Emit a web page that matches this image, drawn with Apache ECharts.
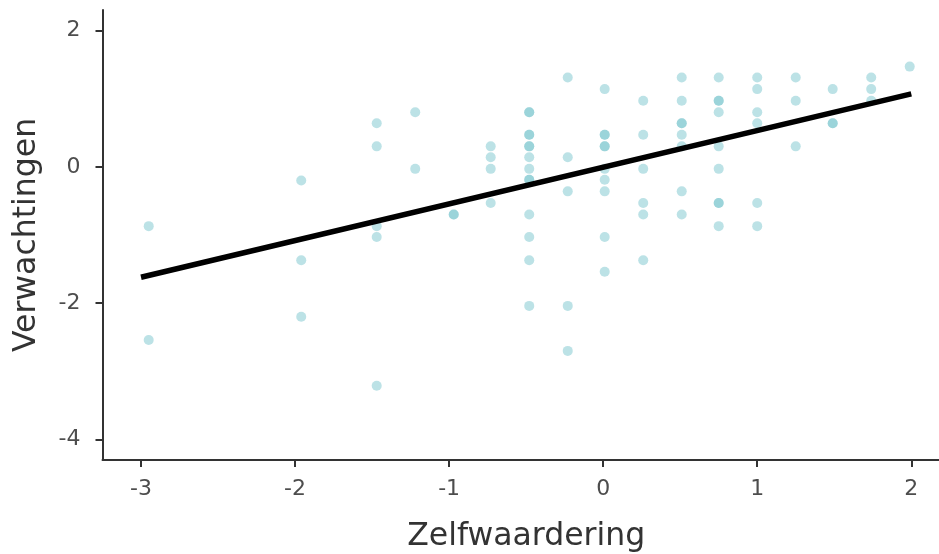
<!DOCTYPE html>
<html>
<head>
<meta charset="utf-8">
<script src="https://cdn.jsdelivr.net/npm/echarts@6/dist/echarts.min.js"></script>
<style>
html,body{margin:0;padding:0;background:#fff;}
#chart{width:939px;height:554px;}
</style>
</head>
<body>
<div id="chart"></div>
<script>
// Zelfwaardering (x) per point
var zelfwaardering = [
  -2.95,-2.95,
  -1.96,-1.96,-1.96,
  -1.47,-1.47,-1.47,-1.47,-1.47,
  -1.22,-1.22,
  -0.97,-0.97,
  -0.73,-0.73,-0.73,-0.73,
  -0.48,-0.48,-0.48,-0.48,-0.48,-0.48,-0.48,-0.48,-0.48,-0.48,-0.48,-0.48,-0.48,-0.48,
  -0.23,-0.23,-0.23,-0.23,-0.23,
  0.01,0.01,0.01,0.01,0.01,0.01,0.01,0.01,0.01,0.01,
  0.26,0.26,0.26,0.26,0.26,0.26,
  0.51,0.51,0.51,0.51,0.51,0.51,0.51,0.51,
  0.75,0.75,0.75,0.75,0.75,0.75,0.75,0.75,0.75,
  1.00,1.00,1.00,1.00,1.00,1.00,
  1.25,1.25,1.25,
  1.49,1.49,1.49,
  1.74,1.74,1.74,
  1.99
];
// Verwachtingen (y) per point
var verwachtingen = [
  -0.87,-2.54,
  -0.20,-1.37,-2.20,
  0.64,0.30,-0.87,-1.03,-3.21,
  0.80,-0.03,
  -0.70,-0.70,
  0.30,0.14,-0.03,-0.53,
  0.80,0.80,0.47,0.47,0.30,0.30,0.14,-0.03,-0.19,-0.19,-0.70,-1.03,-1.37,-2.04,
  1.31,0.14,-0.36,-2.04,-2.70,
  1.14,0.47,0.47,0.30,0.30,-0.03,-0.19,-0.36,-1.03,-1.54,
  0.97,0.47,-0.03,-0.53,-0.70,-1.37,
  1.31,0.97,0.64,0.64,0.47,0.30,-0.36,-0.70,
  1.31,0.97,0.97,0.80,0.30,-0.03,-0.53,-0.53,-0.87,
  1.31,1.14,0.80,0.64,-0.53,-0.87,
  1.31,0.97,0.30,
  1.14,0.64,0.64,
  1.31,1.14,0.97,
  1.47
];
// fitted regression line end points
var fitX = [-3, 2];
var fitY = [-1.62, 1.07];
var xTicks = [-3, -2, -1, 0, 1, 2];
var yTicks = [-4, -2, 0, 2];

var points = zelfwaardering.map(function (x, i) { return [x, verwachtingen[i]]; });
var fitLine = fitX.map(function (x, i) { return [x, fitY[i]]; });

var chart = echarts.init(document.getElementById('chart'), null, {renderer: 'canvas'});
var font = 'DejaVu Sans';
chart.setOption({
  animation: false,
  backgroundColor: '#ffffff',
  grid: {left: 102.5, right: 0, top: 10, bottom: 94, containLabel: false, outerBoundsMode: 'none'},
  xAxis: {
    type: 'value',
    min: -3.25, max: 2.18,
    name: 'Zelfwaardering',
    nameLocation: 'middle',
    nameGap: 61,
    nameTextStyle: {fontFamily: font, fontSize: 31.5, color: '#333333', padding: [0, 0, 0, 11]},
    axisLine: {show: true, onZero: false, lineStyle: {color: '#333333', width: 2}},
    axisTick: {show: true, customValues: xTicks, length: 7, lineStyle: {color: '#333333', width: 2}},
    axisLabel: {customValues: xTicks, fontFamily: font, fontSize: 22, color: '#4d4d4d', margin: 18},
    splitLine: {show: false}
  },
  yAxis: {
    type: 'value',
    min: -4.3, max: 2.3,
    name: 'Verwachtingen',
    nameLocation: 'middle',
    nameGap: 60,
    nameTextStyle: {fontFamily: font, fontSize: 31.5, color: '#333333'},
    axisLine: {show: true, onZero: false, lineStyle: {color: '#333333', width: 2}},
    axisTick: {show: true, customValues: yTicks, length: 7, lineStyle: {color: '#333333', width: 2}},
    axisLabel: {customValues: yTicks, fontFamily: font, fontSize: 22, color: '#4d4d4d', margin: 22},
    splitLine: {show: false}
  },
  series: [
    {
      type: 'scatter',
      data: points,
      symbolSize: 10,
      itemStyle: {color: '#7AC5CD', opacity: 0.5},
      z: 2
    },
    {
      type: 'line',
      data: fitLine,
      symbol: 'none',
      lineStyle: {color: '#000000', width: 5.5},
      z: 3
    }
  ]
});
</script>
</body>
</html>
